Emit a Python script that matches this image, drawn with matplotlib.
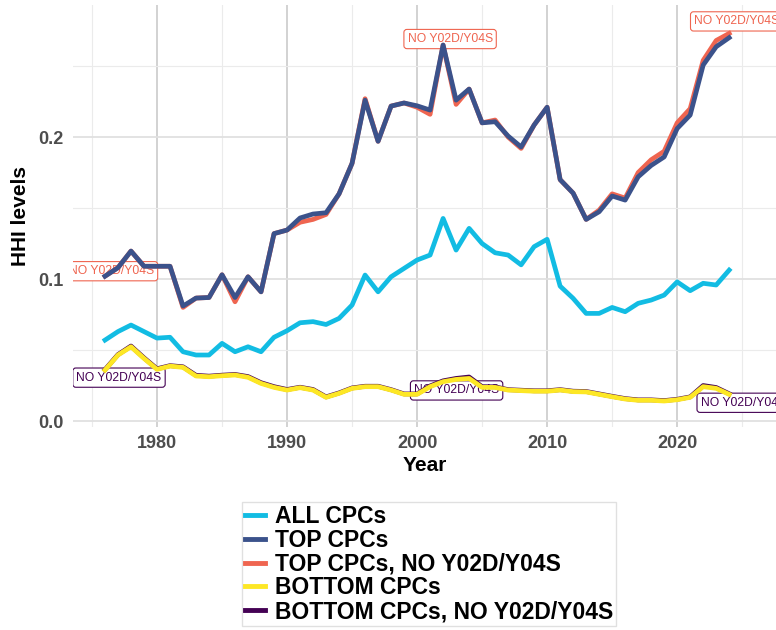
import matplotlib
matplotlib.use("Agg")
import matplotlib.pyplot as plt
from matplotlib.lines import Line2D
from matplotlib.ticker import MultipleLocator

plt.rcParams['font.family'] = ['Liberation Sans', 'DejaVu Sans']

years = list(range(1976, 2025))

all_cpcs = [0.057, 0.063, 0.0676, 0.063, 0.0584, 0.059, 0.0488, 0.0465, 0.0465, 0.0547,
            0.0488, 0.0523, 0.0488, 0.059, 0.0636, 0.0692, 0.070, 0.068, 0.0723, 0.0817,
            0.1028, 0.091, 0.1016, 0.1075, 0.1134, 0.1169, 0.1427, 0.1204, 0.1357, 0.125,
            0.1185, 0.1169, 0.110, 0.1228, 0.128, 0.095, 0.0864, 0.0758, 0.0758, 0.080,
            0.077, 0.0829, 0.0852, 0.0887, 0.098, 0.0918, 0.097, 0.0958, 0.1063]

top_cpcs = [0.102, 0.108, 0.1197, 0.109, 0.109, 0.109, 0.081, 0.0866, 0.087, 0.103,
            0.087, 0.1016, 0.091, 0.132, 0.1345, 0.143, 0.1458, 0.1467, 0.160, 0.1815,
            0.226, 0.197, 0.2218, 0.224, 0.222, 0.219, 0.2648, 0.226, 0.2338, 0.210,
            0.2108, 0.2007, 0.193, 0.2085, 0.221, 0.170, 0.1605, 0.142, 0.1474, 0.1585,
            0.1556, 0.172, 0.180, 0.186, 0.206, 0.2155, 0.2507, 0.2636, 0.270]

top_no = [0.102, 0.108, 0.1197, 0.109, 0.109, 0.109, 0.080, 0.0866, 0.087, 0.103,
          0.084, 0.1016, 0.091, 0.132, 0.1345, 0.140, 0.142, 0.1455, 0.160, 0.1815,
          0.227, 0.197, 0.2218, 0.224, 0.221, 0.216, 0.2648, 0.223, 0.2338, 0.210,
          0.212, 0.2, 0.192, 0.2085, 0.221, 0.170, 0.1605, 0.142, 0.1485, 0.160,
          0.157, 0.175, 0.184, 0.190, 0.210, 0.220, 0.254, 0.268, 0.273]

bottom_cpcs = [0.0359, 0.0465, 0.0523, 0.0441, 0.0364, 0.0387, 0.0378, 0.0317, 0.0312, 0.0319,
               0.0324, 0.0308, 0.0265, 0.0237, 0.0218, 0.0235, 0.0218, 0.0167, 0.0195, 0.023,
               0.0242, 0.0242, 0.0218, 0.0188, 0.0188, 0.0242, 0.0277, 0.0293, 0.030, 0.0237,
               0.0237, 0.0218, 0.0214, 0.021, 0.021, 0.0218, 0.0207, 0.0205, 0.0188, 0.0171,
               0.0155, 0.0146, 0.0146, 0.0141, 0.015, 0.0167, 0.0242, 0.023, 0.0188]

bottom_no = [0.0362, 0.0468, 0.0528, 0.0445, 0.0368, 0.039, 0.0382, 0.0322, 0.0316, 0.0323,
             0.0328, 0.0313, 0.027, 0.0242, 0.0222, 0.0238, 0.0222, 0.017, 0.0198, 0.0233,
             0.0245, 0.0245, 0.0221, 0.0191, 0.0191, 0.0247, 0.0283, 0.030, 0.031, 0.0242,
             0.0241, 0.0221, 0.0217, 0.0213, 0.0213, 0.0221, 0.021, 0.0208, 0.0191, 0.0174,
             0.0158, 0.0149, 0.0149, 0.0144, 0.0153, 0.017, 0.025, 0.0236, 0.0192]

series_names = ['ALL CPCs', 'TOP CPCs', 'TOP CPCs, NO Y02D/Y04S',
                'BOTTOM CPCs', 'BOTTOM CPCs, NO Y02D/Y04S']
colors = {'ALL CPCs': '#12BCE3', 'TOP CPCs': '#3B528B',
          'TOP CPCs, NO Y02D/Y04S': '#EF6550', 'BOTTOM CPCs': '#FDE725',
          'BOTTOM CPCs, NO Y02D/Y04S': '#440154'}

label_text = 'NO Y02D/Y04S'
# (series, year the label points at, pixel offset of the box centre)
labels = [('TOP CPCs, NO Y02D/Y04S', 1976, (6.5, 5)),
          ('TOP CPCs, NO Y02D/Y04S', 2002, (7, 6)),
          ('TOP CPCs, NO Y02D/Y04S', 2024, (7.5, 12)),
          ('BOTTOM CPCs, NO Y02D/Y04S', 1976, (14, -8)),
          ('BOTTOM CPCs, NO Y02D/Y04S', 2003, (0.5, -12)),
          ('BOTTOM CPCs, NO Y02D/Y04S', 2024, (14, -9))]

data = {'ALL CPCs': all_cpcs, 'TOP CPCs': top_cpcs,
        'TOP CPCs, NO Y02D/Y04S': top_no, 'BOTTOM CPCs': bottom_cpcs,
        'BOTTOM CPCs, NO Y02D/Y04S': bottom_no}

W, H = 776, 630
fig = plt.figure(figsize=(W / 100, H / 100), dpi=100)
ax = fig.add_axes([73 / W, (H - 427) / H, (776 - 73) / W, (427 - 5) / H])

lw = 3.4
# labels sit under the lines
for name, yr, off in labels:
    val = data[name][years.index(yr)]
    ax.annotate(label_text, xy=(yr, val), xytext=off, textcoords='offset pixels',
                ha='center', va='center', fontsize=8.7, color=colors[name],
                bbox=dict(boxstyle='round,pad=0.3,rounding_size=0.25', fc='white',
                          ec=colors[name], lw=0.8),
                zorder=2, clip_on=True, annotation_clip=False)

ax.plot(years, all_cpcs, color=colors['ALL CPCs'], lw=lw, zorder=3)
ax.plot(years, top_no, color=colors['TOP CPCs, NO Y02D/Y04S'], lw=lw, zorder=3)
ax.plot(years, top_cpcs, color=colors['TOP CPCs'], lw=lw, zorder=4)
ax.plot(years, bottom_no, color=colors['BOTTOM CPCs, NO Y02D/Y04S'], lw=lw, zorder=3)
ax.plot(years, bottom_cpcs, color=colors['BOTTOM CPCs'], lw=lw, zorder=4)

ax.set_xlim(1973.54, 2027.6)
ax.set_ylim(-0.0042, 0.293)
ax.xaxis.set_major_locator(MultipleLocator(10))
ax.xaxis.set_minor_locator(MultipleLocator(5))
ax.yaxis.set_minor_locator(MultipleLocator(0.05))
ax.set_yticks([0.0, 0.1, 0.2])
ax.set_yticklabels(['0.0', '0.1', '0.2'])

ax.grid(True, which='major', axis='x', color='#CFCFCF', lw=1.3)
ax.grid(True, which='major', axis='y', color='#E0E0E0', lw=1.3)
ax.grid(True, which='minor', color='#EBEBEB', lw=0.8)
ax.set_axisbelow(True)
for s in ax.spines.values():
    s.set_visible(False)
ax.tick_params(which='both', length=0)
ax.tick_params(axis='y', pad=6.5, labelsize=13, labelcolor='#4D4D4D')
ax.tick_params(axis='x', pad=5.5, labelsize=13, labelcolor='#4D4D4D')
for t in ax.get_xticklabels() + ax.get_yticklabels():
    t.set_fontweight('bold')

ax.set_xlabel('Year', fontsize=15, fontweight='bold', labelpad=3)
ax.set_ylabel('HHI levels', fontsize=15, fontweight='bold', labelpad=6)

handles = [Line2D([], [], color=colors[n], lw=3.5) for n in series_names]
fig.legend(handles, series_names, loc='upper left',
           bbox_to_anchor=(242 / W, 1 - 502 / H), frameon=True, fancybox=False,
           edgecolor='#D9D9D9', prop={'weight': 'bold', 'size': 16.5},
           handlelength=0.9, handletextpad=0.4, labelspacing=0.04,
           borderpad=0.12, borderaxespad=0)

fig.savefig('out.png', dpi=100)
